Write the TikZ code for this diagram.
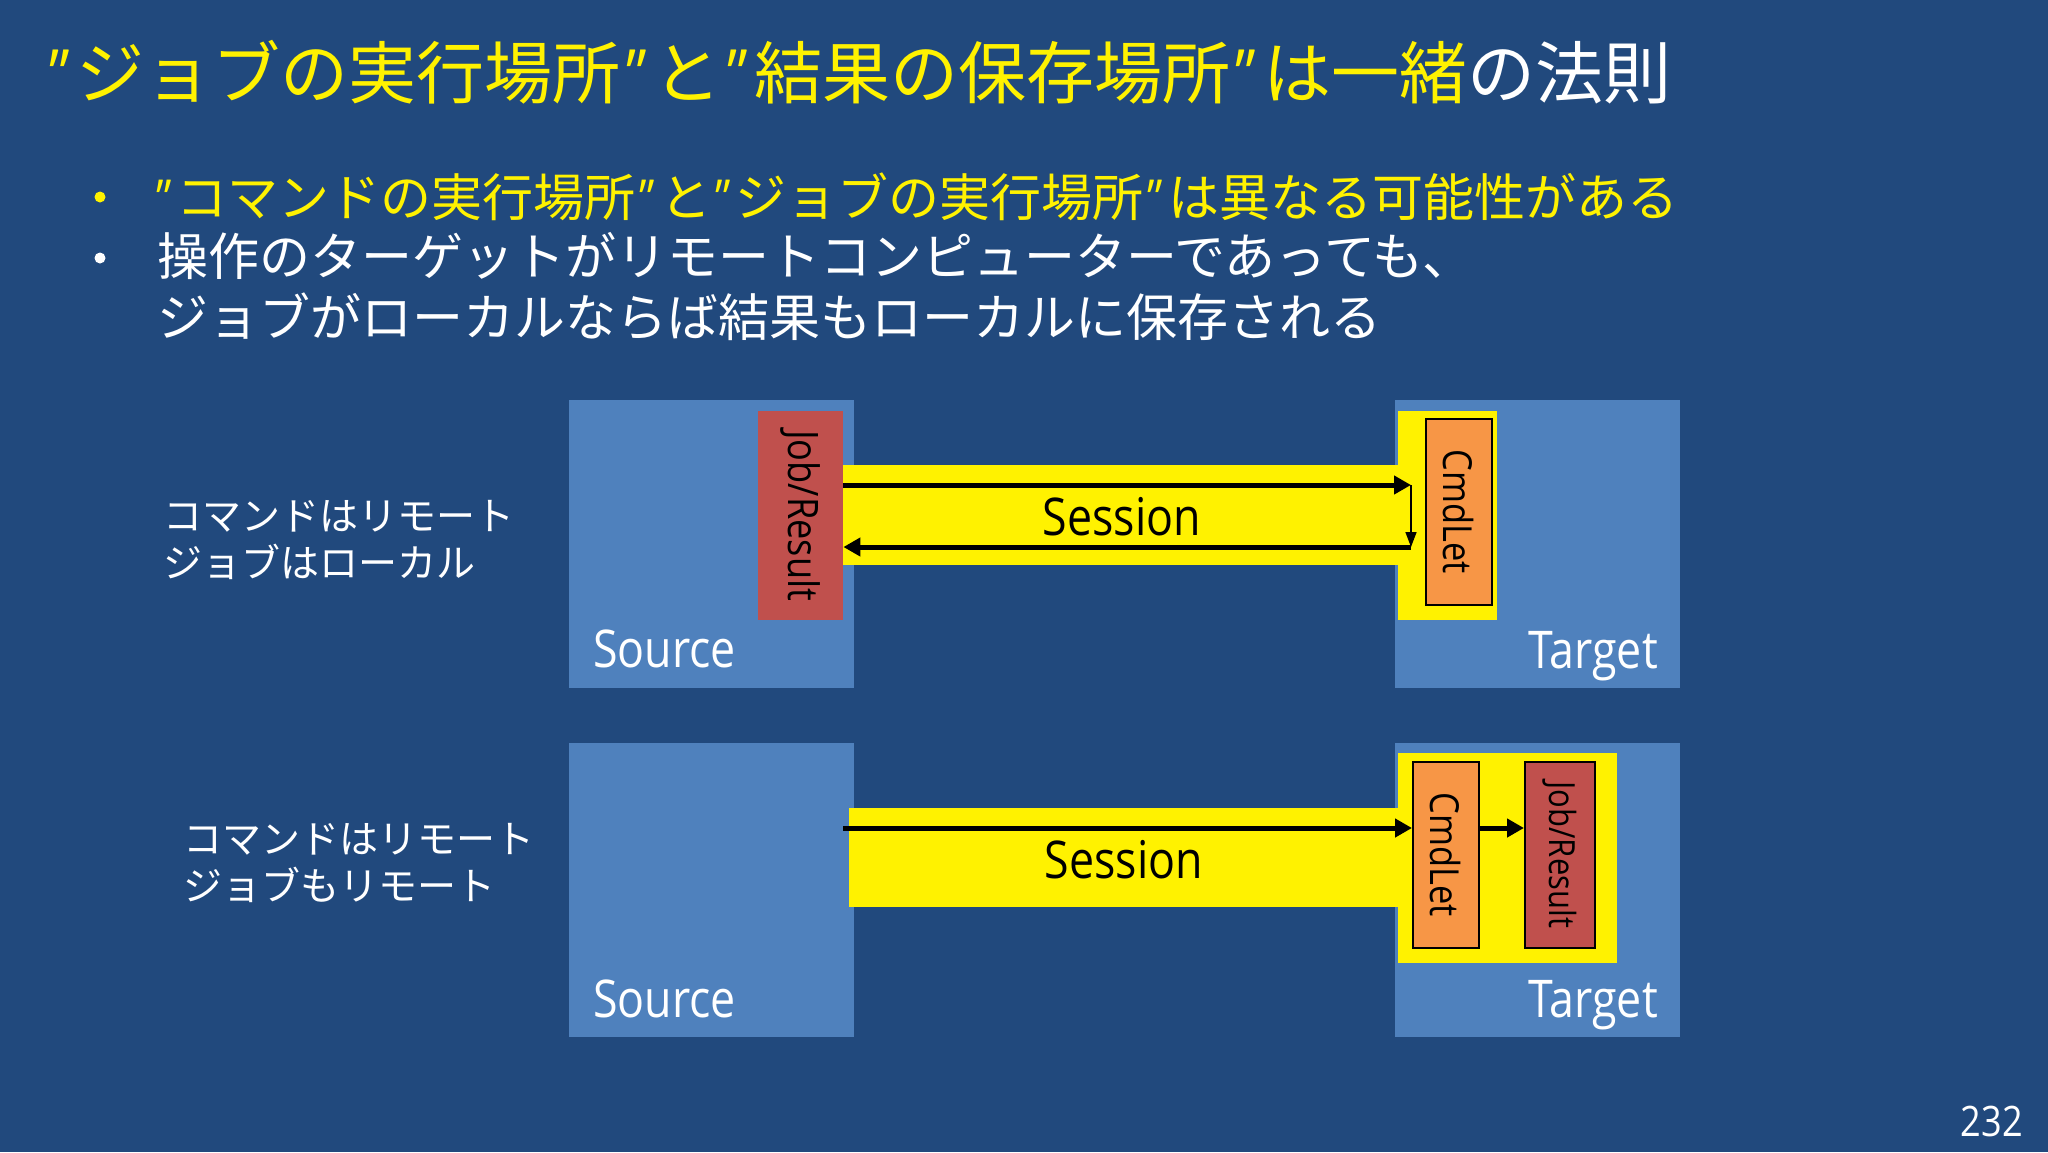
\documentclass[tikz,border=0pt]{standalone}
\usepackage{fontspec}
\setmainfont{Noto Sans CJK JP}
\newfontfamily\latinfont{Open Sans}[FakeStretch=0.86]
\usetikzlibrary{arrows.meta}
\definecolor{slideblue}{RGB}{33,73,125}
\definecolor{hostblue}{RGB}{79,129,189}
\definecolor{jobred}{RGB}{192,80,77}
\definecolor{cmdorange}{RGB}{247,150,70}
\newcommand{\qmark}{\kern0.08em{\latinfont ”}\kern0.1em}

\begin{document}
\begin{tikzpicture}[x=1pt,y=-1pt,
    host/.style={fill=hostblue,anchor=north west,minimum width=285pt},
    glow/.style={fill=yellow,anchor=north west},
    jobbox/.style={fill=jobred,anchor=north west,minimum width=85pt,minimum height=209pt},
    cmdbox/.style={fill=cmdorange,draw=black,line width=1.5pt,anchor=north west,minimum width=66pt,minimum height=186pt},
    flow/.style={line width=5pt,-{Triangle[length=17pt,width=18pt]}},
    drop/.style={line width=1.5pt,-{Triangle[length=15pt,width=11pt]}},
    boxtext/.style={rotate=-90,font=\latinfont\fontsize{40}{40}\selectfont},
    hosttext/.style={text=white,font=\latinfont\fontsize{52}{52}\selectfont},
    sesstext/.style={anchor=base,font=\latinfont\fontsize{52}{52}\selectfont},
    note/.style={text=white,anchor=north west,align=left,font=\fontsize{39}{47}\selectfont}]
    \tikzstyle{every node}+=[inner sep=0pt]
    \fill [slideblue] (0,0) rectangle (2048,1152);
    \useasboundingbox (0,0) rectangle (2048,1152);
    \node [anchor=north west,font=\fontsize{68}{68}\selectfont] (title) at (44,40) {\textcolor{yellow}{\qmark ジョブの実行場所\qmark と\qmark 結果の保存場所\qmark は一緒}\textcolor{white}{の法則}};
    \node [circle,fill=yellow,minimum size=11pt] (dot1) at (100,197) {};
    \node [circle,fill=white,minimum size=11pt] (dot2) at (100,258) {};
    \node [anchor=north west,text=yellow,font=\fontsize{51}{51}\selectfont] (point1) at (152,173) {\qmark コマンドの実行場所\qmark と\qmark ジョブの実行場所\qmark は異なる可能性がある};
    \node [anchor=north west,text=white,align=left,font=\fontsize{51}{61}\selectfont] (point2) at (157,232) {操作のターゲットがリモートコンピューターであっても、\\ジョブがローカルならば結果もローカルに保存される};
    \node [host,minimum height=288pt] (src1) at (569,400) {};
    \node [host,minimum height=288pt] (tgt1) at (1395,400) {};
    \node [glow,minimum width=555pt,minimum height=100pt] (sess1) at (843,465) {};
    \node [glow,minimum width=99pt,minimum height=209pt] (halo1) at (1398,411) {};
    \node [jobbox] (job1) at (758,411) {};
    \node [cmdbox] (cmd1) at (1425,418) {};
    \coordinate (turn1) at (1411,485);
    \coordinate (back1) at (1411,547);
    \draw [flow] (job1.east |- turn1) -- (turn1);
    \draw [drop] (turn1) -- (back1);
    \draw [flow] (back1) -- (job1.east |- back1);
    \node [boxtext,font=\latinfont\fontsize{42}{42}\selectfont] (job1t) at (job1) {Job/Result};
    \node [boxtext] (cmd1t) at (cmd1) {CmdLet};
    \node [sesstext] (sess1t) at (1122,535) {Session};
    \node [hosttext,anchor=base west] (src1t) at (593,667) {Source};
    \node [hosttext,anchor=base east] (tgt1t) at (1658,668) {Target};
    \node [note] (rule1) at (163,500) {コマンドはリモート\\ジョブはローカル};
    \node [host,minimum height=294pt] (src2) at (569,743) {};
    \node [host,minimum height=294pt] (tgt2) at (1395,743) {};
    \node [glow,minimum width=549pt,minimum height=99pt] (sess2) at (849,808) {};
    \node [glow,minimum width=219pt,minimum height=210pt] (halo2) at (1398,753) {};
    \node [cmdbox] (cmd2) at (1412,761) {};
    \node [cmdbox,fill=jobred,minimum width=70pt] (job2) at (1524,761) {};
    \coordinate (go2) at (843,828);
    \draw [flow] (go2) -- (go2 -| cmd2.west);
    \draw [flow] (go2 -| cmd2.east) -- (go2 -| job2.west);
    \node [boxtext] (cmd2t) at (cmd2) {CmdLet};
    \node [boxtext,font=\latinfont\fontsize{36}{36}\selectfont] (job2t) at (job2) {Job/Result};
    \node [sesstext] (sess2t) at (1124,878) {Session};
    \node [hosttext,anchor=base west] (src2t) at (593,1017) {Source};
    \node [hosttext,anchor=base east] (tgt2t) at (1658,1017) {Target};
    \node [note] (rule2) at (183,823) {コマンドはリモート\\ジョブもリモート};
    \node [anchor=base east,text=white,font=\latinfont\fontsize{42}{42}\selectfont] (page) at (2023,1136) {232};
\end{tikzpicture}
\end{document}
